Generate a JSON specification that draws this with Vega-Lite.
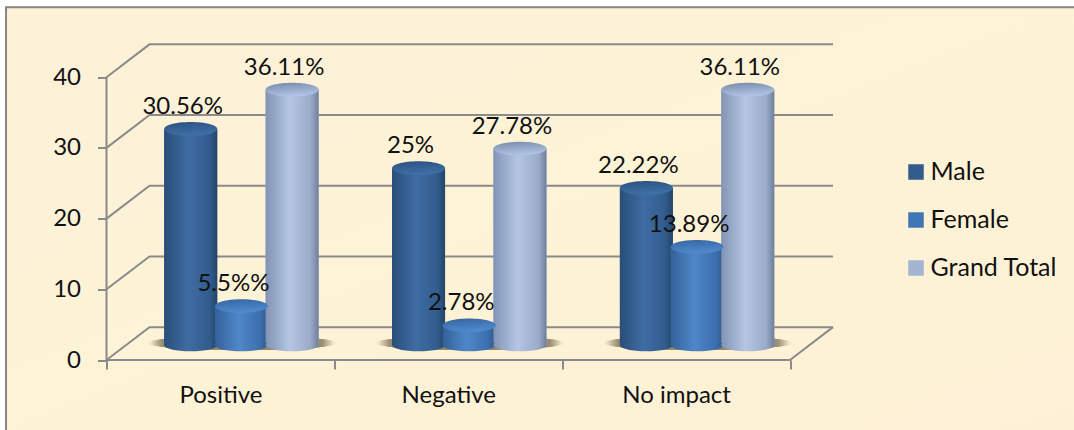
{
  "$schema": "https://vega.github.io/schema/vega-lite/v6.json",
  "width": 727.5,
  "height": 316.5,
  "autosize": "none",
  "padding": {"left": 106.5, "top": 43.5, "right": 240, "bottom": 70},
  "background": "white",
  "view": {"stroke": null},
  "config": {"font": "Lato"},
  "params": [
    {"name": "sideMale", "expr": "{gradient:'linear',x1:0,y1:0,x2:1,y2:0,stops:[{offset:0,color:'#2a4e7a'},{offset:0.45,color:'#3f6ca3'},{offset:0.85,color:'#325c8e'},{offset:1,color:'#254569'}]}"},
    {"name": "sideFemale", "expr": "{gradient:'linear',x1:0,y1:0,x2:1,y2:0,stops:[{offset:0,color:'#33619a'},{offset:0.45,color:'#4f87c8'},{offset:0.85,color:'#3c6fae'},{offset:1,color:'#30598b'}]}"},
    {"name": "sideTotal", "expr": "{gradient:'linear',x1:0,y1:0,x2:1,y2:0,stops:[{offset:0,color:'#8293b3'},{offset:0.45,color:'#b4c6e4'},{offset:0.85,color:'#9aabc9'},{offset:1,color:'#6f7f9b'}]}"},
    {"name": "capMale", "expr": "{gradient:'linear',x1:0,y1:0,x2:0.25,y2:1,stops:[{offset:0,color:'#2b517f'},{offset:1,color:'#3f70a6'}]}"},
    {"name": "capFemale", "expr": "{gradient:'linear',x1:0,y1:0,x2:0.25,y2:1,stops:[{offset:0,color:'#3565a0'},{offset:1,color:'#4f8ace'}]}"},
    {"name": "capTotal", "expr": "{gradient:'linear',x1:0,y1:0,x2:0.25,y2:1,stops:[{offset:0,color:'#7a8baa'},{offset:1,color:'#b0c3e2'}]}"}
  ],
  "datasets": {
    "impact": [
      {"group": "Positive", "series": "Male", "value": 30.56, "label": "30.56%"},
      {"group": "Positive", "series": "Female", "value": 5.5, "label": "5.5%%"},
      {"group": "Positive", "series": "Grand Total", "value": 36.11, "label": "36.11%"},
      {"group": "Negative", "series": "Male", "value": 25, "label": "25%"},
      {"group": "Negative", "series": "Female", "value": 2.78, "label": "2.78%"},
      {"group": "Negative", "series": "Grand Total", "value": 27.78, "label": "27.78%"},
      {"group": "No impact", "series": "Male", "value": 22.22, "label": "22.22%"},
      {"group": "No impact", "series": "Female", "value": 13.89, "label": "13.89%"},
      {"group": "No impact", "series": "Grand Total", "value": 36.11, "label": "36.11%"}
    ],
    "wall": [
      {"line": "g0", "depth": 0, "level": 0}, {"line": "g0", "depth": 0.1887, "level": 4.65}, {"line": "g0", "depth": 3.1887, "level": 4.65},
      {"line": "g10", "depth": 0, "level": 10}, {"line": "g10", "depth": 0.1887, "level": 14.65}, {"line": "g10", "depth": 3.1887, "level": 14.65},
      {"line": "g20", "depth": 0, "level": 20}, {"line": "g20", "depth": 0.1887, "level": 24.65}, {"line": "g20", "depth": 3.1887, "level": 24.65},
      {"line": "g30", "depth": 0, "level": 30}, {"line": "g30", "depth": 0.1887, "level": 34.65}, {"line": "g30", "depth": 3.1887, "level": 34.65},
      {"line": "g40", "depth": 0, "level": 40}, {"line": "g40", "depth": 0.1887, "level": 44.65}, {"line": "g40", "depth": 3.1887, "level": 44.65},
      {"line": "side", "depth": 0, "level": 0}, {"line": "side", "depth": 0, "level": 40},
      {"line": "front", "depth": 0, "level": 0}, {"line": "front", "depth": 3, "level": 0}, {"line": "front", "depth": 3.1887, "level": 4.65}
    ]
  },
  "layer": [
    {
      "layer": [
        {
          "data": {"values": [{"area": "chart"}]},
          "mark": {
            "type": "rect",
            "stroke": "#868686",
            "strokeWidth": 2,
            "fill": {
              "gradient": "linear", "x1": 0, "y1": 0, "x2": 1, "y2": 1,
              "stops": [
                {"offset": 0, "color": "#fdf1d8"},
                {"offset": 0.45, "color": "#fdf3d6"},
                {"offset": 1, "color": "#fdf0d6"}
              ]
            }
          },
          "encoding": {
            "x": {"datum": -0.441, "type": "quantitative", "title": null, "axis": null,
                  "scale": {"domain": [0, 3.1932], "nice": false, "zero": false}},
            "x2": {"datum": 4.4},
            "y": {"datum": 49.9, "type": "quantitative"},
            "y2": {"datum": -12}
          }
        },
        {
          "data": {"name": "wall"},
          "mark": {"type": "line", "color": "#8a8a8a", "strokeWidth": 2, "interpolate": "linear"},
          "encoding": {
            "x": {"field": "depth", "type": "quantitative", "title": null, "axis": null},
            "y": {"field": "level", "type": "quantitative"},
            "detail": {"field": "line"},
            "order": {"field": "depth"}
          }
        }
      ]
    },
    {
      "data": {"name": "impact"},
      "encoding": {
        "x": {
          "field": "group", "type": "nominal", "sort": ["Positive", "Negative", "No impact"], "title": null,
          "scale": {"range": [0, 683.5], "paddingInner": 0, "paddingOuter": 0},
          "axis": {"zindex": 1, "tickBand": "extent", "domain": false, "labelAngle": 0, "labelFontSize": 24,
                   "labelColor": "#111111", "labelPadding": 14, "tickSize": 9, "tickWidth": 2, "tickColor": "#8a8a8a", "grid": false}
        },
        "xOffset": {
          "field": "series", "type": "nominal", "sort": ["Male", "Female", "Grand Total"],
          "scale": {"range": [21, 248.83], "paddingInner": 0, "paddingOuter": 0.747}
        },
        "y": {
          "field": "value", "type": "quantitative", "title": null,
          "scale": {"domain": [0, 44.77], "nice": false, "zero": false},
          "axis": {"zindex": 1, "values": [0, 10, 20, 30, 40], "domain": false, "grid": false, "labelFontSize": 24,
                   "labelColor": "#111111", "labelPadding": 17, "tickSize": 9, "tickWidth": 2, "tickColor": "#8a8a8a"}
        }
      },
      "layer": [
        {
          "mark": {
            "type": "point", "filled": true, "opacity": 1, "size": 36100, "yOffset": -17, "strokeWidth": 0,
            "shape": "M-1,0A1,0.074 0 1 1 1,0A1,0.074 0 1 1 -1,0Z",
            "fill": {
              "gradient": "radial", "x1": 0.5, "y1": 0.5, "r1": 0, "x2": 0.5, "y2": 0.5, "r2": 0.5,
              "stops": [
                {"offset": 0, "color": "#8f8468"},
                {"offset": 0.84, "color": "#9a8e72"},
                {"offset": 1, "color": "rgba(253,241,214,0)"}
              ]
            }
          },
          "encoding": {"y": {"datum": 0, "type": "quantitative"}, "xOffset": {"value": 135.5}}
        },
        {
          "mark": {"type": "bar", "width": 53, "yOffset": -15, "y2Offset": -15},
          "encoding": {
            "y2": {"datum": 0},
            "color": {
              "field": "series", "type": "nominal",
              "scale": {"domain": ["Male", "Female", "Grand Total"], "range": ["#325c8e", "#3f76b6", "#a3b4d2"]},
              "legend": {
                "orient": "none", "legendX": 797, "legendY": 116, "title": null,
                "symbolType": "square", "symbolSize": 240, "symbolStrokeWidth": 0,
                "labelFontSize": 25, "labelColor": "#111111", "rowPadding": 22, "labelOffset": 2,
                "labelLimit": 200
              }
            }
          }
        },
        {
          "mark": {"type": "bar", "width": 53, "yOffset": -15, "y2Offset": -15,
                   "fill": {"expr": "datum.series === 'Male' ? sideMale : datum.series === 'Female' ? sideFemale : sideTotal"}},
          "encoding": {"y2": {"datum": 0}}
        },
        {
          "mark": {"type": "point", "filled": true, "opacity": 1, "size": 2809, "yOffset": -15, "strokeWidth": 0,
                   "shape": "M-1,0A1,0.24 0 1 1 1,0A1,0.24 0 1 1 -1,0Z",
                   "fill": {"expr": "datum.series === 'Male' ? sideMale : datum.series === 'Female' ? sideFemale : sideTotal"}},
          "encoding": {"y": {"datum": 0, "type": "quantitative"}}
        },
        {
          "mark": {"type": "point", "filled": true, "opacity": 1, "size": 2809, "yOffset": -15, "strokeWidth": 0,
                   "shape": "M-1,0A1,0.26 0 1 1 1,0A1,0.26 0 1 1 -1,0Z",
                   "fill": {"expr": "datum.series === 'Male' ? capMale : datum.series === 'Female' ? capFemale : capTotal"}}
        },
        {
          "mark": {"type": "text", "fontSize": 24, "color": "#111111", "baseline": "middle", "dx": -8, "yOffset": -37},
          "encoding": {"text": {"field": "label", "type": "nominal"}}
        }
      ]
    }
  ],
  "resolve": {"scale": {"x": "independent"}}
}
